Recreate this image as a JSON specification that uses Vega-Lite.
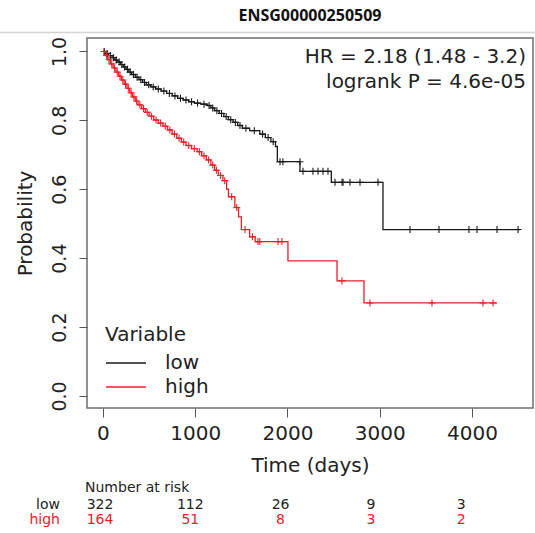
{
  "$schema": "https://vega.github.io/schema/vega-lite/v6.json",
  "width": 446,
  "height": 370,
  "autosize": "none",
  "padding": {"left": 87, "top": 38, "right": 2, "bottom": 125},
  "background": "white",
  "config": {
    "font": "DejaVu Sans",
    "view": {"stroke": "#6e6e6e", "strokeWidth": 1.5},
    "axis": {"grid": false, "domain": false, "tickColor": "#555", "labelColor": "#222", "titleColor": "#222", "labelFont": "DejaVu Sans", "titleFont": "DejaVu Sans", "titleFontWeight": "normal"},
    "title": {"font": "Open Sans", "fontSize": 16, "fontWeight": "bold", "color": "#111"}
  },
  "title": {"text": "ENSG00000250509", "anchor": "middle", "frame": "group", "offset": -5, "baseline": "alphabetic"},
  "datasets": {
    "km": [
      {"time": 0, "surv": 1.0, "group": "low"},
      {"time": 30, "surv": 0.994, "group": "low"},
      {"time": 60, "surv": 0.988, "group": "low"},
      {"time": 100, "surv": 0.982, "group": "low"},
      {"time": 130, "surv": 0.975, "group": "low"},
      {"time": 160, "surv": 0.969, "group": "low"},
      {"time": 190, "surv": 0.962, "group": "low"},
      {"time": 220, "surv": 0.955, "group": "low"},
      {"time": 250, "surv": 0.948, "group": "low"},
      {"time": 280, "surv": 0.94, "group": "low"},
      {"time": 310, "surv": 0.933, "group": "low"},
      {"time": 350, "surv": 0.925, "group": "low"},
      {"time": 390, "surv": 0.918, "group": "low"},
      {"time": 430, "surv": 0.91, "group": "low"},
      {"time": 470, "surv": 0.903, "group": "low"},
      {"time": 520, "surv": 0.897, "group": "low"},
      {"time": 570, "surv": 0.891, "group": "low"},
      {"time": 630, "surv": 0.885, "group": "low"},
      {"time": 690, "surv": 0.878, "group": "low"},
      {"time": 750, "surv": 0.871, "group": "low"},
      {"time": 810, "surv": 0.864, "group": "low"},
      {"time": 870, "surv": 0.859, "group": "low"},
      {"time": 930, "surv": 0.854, "group": "low"},
      {"time": 990, "surv": 0.85, "group": "low"},
      {"time": 1060, "surv": 0.847, "group": "low"},
      {"time": 1130, "surv": 0.843, "group": "low"},
      {"time": 1170, "surv": 0.836, "group": "low"},
      {"time": 1210, "surv": 0.828, "group": "low"},
      {"time": 1260, "surv": 0.82, "group": "low"},
      {"time": 1310, "surv": 0.811, "group": "low"},
      {"time": 1360, "surv": 0.802, "group": "low"},
      {"time": 1410, "surv": 0.794, "group": "low"},
      {"time": 1460, "surv": 0.785, "group": "low"},
      {"time": 1510, "surv": 0.777, "group": "low"},
      {"time": 1590, "surv": 0.77, "group": "low"},
      {"time": 1700, "surv": 0.76, "group": "low"},
      {"time": 1760, "surv": 0.75, "group": "low"},
      {"time": 1820, "surv": 0.738, "group": "low"},
      {"time": 1870, "surv": 0.724, "group": "low"},
      {"time": 1890, "surv": 0.68, "group": "low"},
      {"time": 2135, "surv": 0.652, "group": "low"},
      {"time": 2475, "surv": 0.62, "group": "low"},
      {"time": 3035, "surv": 0.483, "group": "low"},
      {"time": 4520, "surv": 0.483, "group": "low"},
      {"time": 0, "surv": 1.0, "group": "high"},
      {"time": 25, "surv": 0.988, "group": "high"},
      {"time": 50, "surv": 0.976, "group": "high"},
      {"time": 80, "surv": 0.964, "group": "high"},
      {"time": 110, "surv": 0.952, "group": "high"},
      {"time": 140, "surv": 0.94, "group": "high"},
      {"time": 170, "surv": 0.928, "group": "high"},
      {"time": 200, "surv": 0.917, "group": "high"},
      {"time": 230, "surv": 0.905, "group": "high"},
      {"time": 260, "surv": 0.893, "group": "high"},
      {"time": 290, "surv": 0.88, "group": "high"},
      {"time": 320, "surv": 0.868, "group": "high"},
      {"time": 350, "surv": 0.856, "group": "high"},
      {"time": 380, "surv": 0.845, "group": "high"},
      {"time": 420, "surv": 0.834, "group": "high"},
      {"time": 460, "surv": 0.823, "group": "high"},
      {"time": 500, "surv": 0.812, "group": "high"},
      {"time": 550, "surv": 0.801, "group": "high"},
      {"time": 600, "surv": 0.792, "group": "high"},
      {"time": 650, "surv": 0.783, "group": "high"},
      {"time": 700, "surv": 0.772, "group": "high"},
      {"time": 750, "surv": 0.76, "group": "high"},
      {"time": 800, "surv": 0.748, "group": "high"},
      {"time": 850, "surv": 0.737, "group": "high"},
      {"time": 900, "surv": 0.727, "group": "high"},
      {"time": 960, "surv": 0.718, "group": "high"},
      {"time": 1020, "surv": 0.709, "group": "high"},
      {"time": 1070, "surv": 0.697, "group": "high"},
      {"time": 1120, "surv": 0.685, "group": "high"},
      {"time": 1170, "surv": 0.67, "group": "high"},
      {"time": 1210, "surv": 0.655, "group": "high"},
      {"time": 1250, "surv": 0.64, "group": "high"},
      {"time": 1300, "surv": 0.625, "group": "high"},
      {"time": 1340, "surv": 0.6, "group": "high"},
      {"time": 1360, "surv": 0.578, "group": "high"},
      {"time": 1430, "surv": 0.547, "group": "high"},
      {"time": 1470, "surv": 0.52, "group": "high"},
      {"time": 1500, "surv": 0.483, "group": "high"},
      {"time": 1590, "surv": 0.462, "group": "high"},
      {"time": 1650, "surv": 0.448, "group": "high"},
      {"time": 2005, "surv": 0.392, "group": "high"},
      {"time": 2537, "surv": 0.334, "group": "high"},
      {"time": 2829, "surv": 0.27, "group": "high"},
      {"time": 4270, "surv": 0.27, "group": "high"}
    ],
    "censor": [
      {"time": 15, "surv": 1.0, "group": "low"},
      {"time": 45, "surv": 0.994, "group": "low"},
      {"time": 80, "surv": 0.988, "group": "low"},
      {"time": 115, "surv": 0.982, "group": "low"},
      {"time": 145, "surv": 0.975, "group": "low"},
      {"time": 175, "surv": 0.969, "group": "low"},
      {"time": 205, "surv": 0.962, "group": "low"},
      {"time": 235, "surv": 0.955, "group": "low"},
      {"time": 265, "surv": 0.948, "group": "low"},
      {"time": 295, "surv": 0.94, "group": "low"},
      {"time": 330, "surv": 0.933, "group": "low"},
      {"time": 370, "surv": 0.925, "group": "low"},
      {"time": 410, "surv": 0.918, "group": "low"},
      {"time": 450, "surv": 0.91, "group": "low"},
      {"time": 495, "surv": 0.903, "group": "low"},
      {"time": 545, "surv": 0.897, "group": "low"},
      {"time": 600, "surv": 0.891, "group": "low"},
      {"time": 660, "surv": 0.885, "group": "low"},
      {"time": 720, "surv": 0.878, "group": "low"},
      {"time": 780, "surv": 0.871, "group": "low"},
      {"time": 840, "surv": 0.864, "group": "low"},
      {"time": 900, "surv": 0.859, "group": "low"},
      {"time": 960, "surv": 0.854, "group": "low"},
      {"time": 1025, "surv": 0.85, "group": "low"},
      {"time": 1095, "surv": 0.847, "group": "low"},
      {"time": 1150, "surv": 0.843, "group": "low"},
      {"time": 1190, "surv": 0.836, "group": "low"},
      {"time": 1235, "surv": 0.828, "group": "low"},
      {"time": 1285, "surv": 0.82, "group": "low"},
      {"time": 1335, "surv": 0.811, "group": "low"},
      {"time": 1385, "surv": 0.802, "group": "low"},
      {"time": 1435, "surv": 0.794, "group": "low"},
      {"time": 1485, "surv": 0.785, "group": "low"},
      {"time": 1550, "surv": 0.777, "group": "low"},
      {"time": 1640, "surv": 0.77, "group": "low"},
      {"time": 1730, "surv": 0.76, "group": "low"},
      {"time": 1790, "surv": 0.75, "group": "low"},
      {"time": 1845, "surv": 0.738, "group": "low"},
      {"time": 1919, "surv": 0.68, "group": "low"},
      {"time": 1950, "surv": 0.68, "group": "low"},
      {"time": 2135, "surv": 0.68, "group": "low"},
      {"time": 2168, "surv": 0.652, "group": "low"},
      {"time": 2276, "surv": 0.652, "group": "low"},
      {"time": 2331, "surv": 0.652, "group": "low"},
      {"time": 2385, "surv": 0.652, "group": "low"},
      {"time": 2439, "surv": 0.652, "group": "low"},
      {"time": 2515, "surv": 0.62, "group": "low"},
      {"time": 2591, "surv": 0.62, "group": "low"},
      {"time": 2602, "surv": 0.62, "group": "low"},
      {"time": 2677, "surv": 0.62, "group": "low"},
      {"time": 2786, "surv": 0.62, "group": "low"},
      {"time": 2981, "surv": 0.62, "group": "low"},
      {"time": 3328, "surv": 0.483, "group": "low"},
      {"time": 3642, "surv": 0.483, "group": "low"},
      {"time": 3967, "surv": 0.483, "group": "low"},
      {"time": 4054, "surv": 0.483, "group": "low"},
      {"time": 4271, "surv": 0.483, "group": "low"},
      {"time": 4499, "surv": 0.483, "group": "low"},
      {"time": 12, "surv": 1.0, "group": "high"},
      {"time": 40, "surv": 0.988, "group": "high"},
      {"time": 65, "surv": 0.976, "group": "high"},
      {"time": 95, "surv": 0.964, "group": "high"},
      {"time": 125, "surv": 0.952, "group": "high"},
      {"time": 155, "surv": 0.94, "group": "high"},
      {"time": 185, "surv": 0.928, "group": "high"},
      {"time": 215, "surv": 0.917, "group": "high"},
      {"time": 245, "surv": 0.905, "group": "high"},
      {"time": 275, "surv": 0.893, "group": "high"},
      {"time": 305, "surv": 0.88, "group": "high"},
      {"time": 335, "surv": 0.868, "group": "high"},
      {"time": 365, "surv": 0.856, "group": "high"},
      {"time": 400, "surv": 0.845, "group": "high"},
      {"time": 440, "surv": 0.834, "group": "high"},
      {"time": 480, "surv": 0.823, "group": "high"},
      {"time": 525, "surv": 0.812, "group": "high"},
      {"time": 575, "surv": 0.801, "group": "high"},
      {"time": 625, "surv": 0.792, "group": "high"},
      {"time": 675, "surv": 0.783, "group": "high"},
      {"time": 725, "surv": 0.772, "group": "high"},
      {"time": 775, "surv": 0.76, "group": "high"},
      {"time": 825, "surv": 0.748, "group": "high"},
      {"time": 875, "surv": 0.737, "group": "high"},
      {"time": 930, "surv": 0.727, "group": "high"},
      {"time": 990, "surv": 0.718, "group": "high"},
      {"time": 1045, "surv": 0.709, "group": "high"},
      {"time": 1095, "surv": 0.697, "group": "high"},
      {"time": 1145, "surv": 0.685, "group": "high"},
      {"time": 1190, "surv": 0.67, "group": "high"},
      {"time": 1230, "surv": 0.655, "group": "high"},
      {"time": 1275, "surv": 0.64, "group": "high"},
      {"time": 1320, "surv": 0.625, "group": "high"},
      {"time": 1395, "surv": 0.578, "group": "high"},
      {"time": 1450, "surv": 0.547, "group": "high"},
      {"time": 1540, "surv": 0.483, "group": "high"},
      {"time": 1620, "surv": 0.462, "group": "high"},
      {"time": 1680, "surv": 0.448, "group": "high"},
      {"time": 1700, "surv": 0.448, "group": "high"},
      {"time": 1897, "surv": 0.448, "group": "high"},
      {"time": 1940, "surv": 0.448, "group": "high"},
      {"time": 2590, "surv": 0.334, "group": "high"},
      {"time": 2894, "surv": 0.27, "group": "high"},
      {"time": 3566, "surv": 0.27, "group": "high"},
      {"time": 4119, "surv": 0.27, "group": "high"},
      {"time": 4228, "surv": 0.27, "group": "high"}
    ],
    "risk": [
      {"time": 0, "group": "low", "n": 322},
      {"time": 1000, "group": "low", "n": 112},
      {"time": 2000, "group": "low", "n": 26},
      {"time": 3000, "group": "low", "n": 9},
      {"time": 4000, "group": "low", "n": 3},
      {"time": 0, "group": "high", "n": 164},
      {"time": 1000, "group": "high", "n": 51},
      {"time": 2000, "group": "high", "n": 8},
      {"time": 3000, "group": "high", "n": 3},
      {"time": 4000, "group": "high", "n": 2}
    ],
    "stats": [
      {"label": "HR = 2.18 (1.48 - 3.2)\nlogrank P = 4.6e-05"}
    ],
    "riskhead": [
      {"label": "Number at risk"}
    ]
  },
  "resolve": {"scale": {"x": "independent"}},
  "layer": [
    {
      "layer": [
        {
          "data": {"name": "km"},
          "mark": {"type": "line", "interpolate": "step-after", "strokeWidth": 1.3},
          "encoding": {
            "x": {"field": "time", "type": "quantitative", "scale": {"domain": [-173, 4661], "nice": false, "zero": false},
              "axis": {"values": [0, 1000, 2000, 3000, 4000], "format": "d", "title": "Time (days)", "tickSize": 9, "labelFontSize": 20, "labelPadding": 6, "titleFontSize": 20, "titlePadding": 12}},
            "y": {"field": "surv", "type": "quantitative", "scale": {"domain": [-0.035, 1.039], "nice": false, "zero": false},
              "axis": {"values": [0, 0.2, 0.4, 0.6, 0.8, 1.0], "format": ".1f", "title": "Probability", "tickSize": 8, "labelFontSize": 19, "labelAngle": 270, "labelPadding": 10, "titleFontSize": 20, "titlePadding": 15}},
            "color": {"field": "group", "type": "nominal",
              "scale": {"domain": ["low", "high"], "range": ["#1a1a1a", "#e8202a"]},
              "legend": {"orient": "none", "legendX": 18, "legendY": 287, "title": "Variable", "titleFontSize": 20, "titleFont": "DejaVu Sans", "titleFontWeight": "normal", "titleColor": "#222", "titlePadding": 7, "labelFontSize": 20, "labelFont": "DejaVu Sans", "labelColor": "#222", "labelOffset": 18, "symbolType": "stroke", "symbolSize": 1600, "symbolStrokeWidth": 1.5, "clipHeight": 22, "rowPadding": 2, "padding": 0}}
          }
        },
        {
          "data": {"name": "censor"},
          "mark": {"type": "point", "shape": "M0,-1V1M-1,0H1", "filled": false, "strokeWidth": 1.1, "size": 49, "opacity": 1},
          "encoding": {
            "x": {"field": "time", "type": "quantitative"},
            "y": {"field": "surv", "type": "quantitative"},
            "color": {"field": "group", "type": "nominal"}
          }
        },
        {
          "data": {"name": "stats"},
          "mark": {"type": "text", "align": "right", "baseline": "alphabetic", "fontSize": 20, "lineBreak": "\n", "lineHeight": 25, "color": "#222", "font": "DejaVu Sans"},
          "encoding": {
            "x": {"datum": 4585},
            "y": {"datum": 0.965},
            "text": {"field": "label"}
          }
        },
        {
          "data": {"name": "stats"},
          "mark": {"type": "rule", "color": "#d4d4d4", "strokeWidth": 1.5},
          "encoding": {
            "x": {"datum": -1300},
            "x2": {"datum": 5200},
            "y": {"datum": 1.055}
          }
        }
      ]
    },
    {
      "layer": [
        {
          "data": {"name": "riskhead"},
          "mark": {"type": "text", "align": "left", "baseline": "alphabetic", "fontSize": 14, "color": "#222", "font": "DejaVu Sans"},
          "encoding": {
            "x": {"datum": -166, "scale": {"domain": [-144, 4796], "nice": false, "zero": false}, "axis": null},
            "y": {"datum": -0.278},
            "text": {"field": "label"}
          }
        },
        {
          "data": {"name": "risk"},
          "transform": [{"filter": "datum.group === 'low'"}],
          "mark": {"type": "text", "align": "center", "baseline": "alphabetic", "fontSize": 14, "color": "#222", "font": "DejaVu Sans"},
          "encoding": {
            "x": {"field": "time", "type": "quantitative"},
            "y": {"datum": -0.328},
            "text": {"field": "n"}
          }
        },
        {
          "data": {"name": "risk"},
          "transform": [{"filter": "datum.group === 'high'"}],
          "mark": {"type": "text", "align": "center", "baseline": "alphabetic", "fontSize": 14, "color": "#e8202a", "font": "DejaVu Sans"},
          "encoding": {
            "x": {"field": "time", "type": "quantitative"},
            "y": {"datum": -0.372},
            "text": {"field": "n"}
          }
        },
        {
          "data": {"name": "risk"},
          "transform": [{"filter": "datum.time === 0 && datum.group === 'low'"}],
          "mark": {"type": "text", "align": "right", "baseline": "alphabetic", "fontSize": 14, "color": "#222", "font": "DejaVu Sans"},
          "encoding": {
            "x": {"datum": -443},
            "y": {"datum": -0.328},
            "text": {"field": "group"}
          }
        },
        {
          "data": {"name": "risk"},
          "transform": [{"filter": "datum.time === 0 && datum.group === 'high'"}],
          "mark": {"type": "text", "align": "right", "baseline": "alphabetic", "fontSize": 14, "color": "#e8202a", "font": "DejaVu Sans"},
          "encoding": {
            "x": {"datum": -443},
            "y": {"datum": -0.372},
            "text": {"field": "group"}
          }
        }
      ]
    }
  ]
}
